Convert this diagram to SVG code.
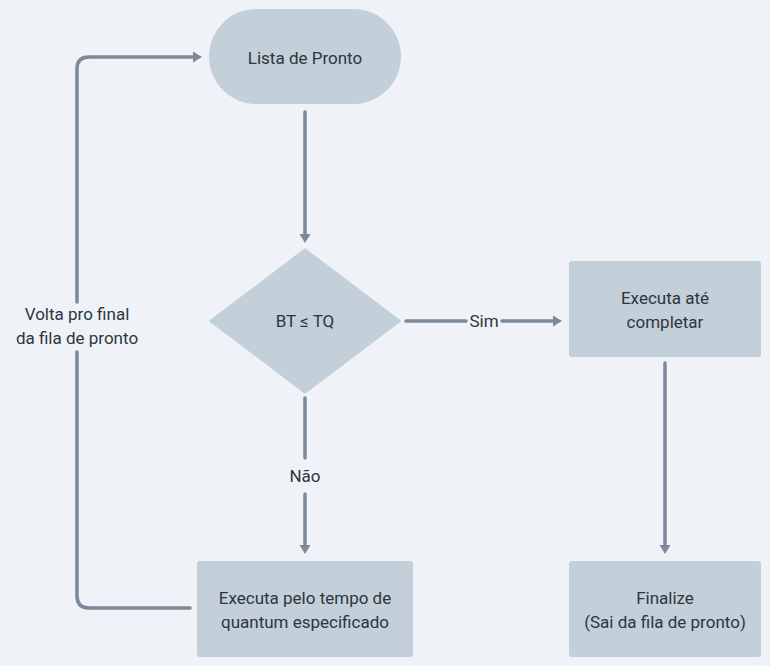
<svg xmlns="http://www.w3.org/2000/svg" width="770" height="666" viewBox="0 0 770 666">
<style>
.node{fill:#c3cfd9;}
.lbl{font-family:Roboto,"Noto Sans",sans-serif;font-size:17px;fill:#2d3640;text-anchor:middle;}
.edge{fill:none;stroke:#7b8998;stroke-width:3.5;stroke-linecap:round;stroke-linejoin:round;}
</style>
<defs>
<marker id="ah" markerUnits="userSpaceOnUse" markerWidth="14" markerHeight="14" viewBox="0 0 14 14" refX="1" refY="7" orient="auto">
<path d="M1,1.5 L10,7 L1,12.5 Z" fill="#7b8998"/>
</marker>
</defs>
<rect x="0" y="0" width="770" height="666" fill="#eff3f7"/>
<g id="edges">
<path class="edge" d="M305,112 L305,234" marker-end="url(#ah)"/>
<path class="edge" d="M406,321 L466,321"/>
<path class="edge" d="M502,321 L553,321" marker-end="url(#ah)"/>
<text class="lbl" x="484" y="327">Sim</text>
<path class="edge" d="M305,398 L305,458"/>
<path class="edge" d="M305,494 L305,545" marker-end="url(#ah)"/>
<text class="lbl" x="305" y="482">Não</text>
<path class="edge" d="M190,608 L89,608 Q77,608 77,596 L77,352"/>
<path class="edge" d="M77,302 L77,69 Q77,57 89,57 L193,57" marker-end="url(#ah)"/>
<text class="lbl" x="77" y="320">Volta pro final</text>
<text class="lbl" x="77" y="344">da fila de pronto</text>
<path class="edge" d="M665,363 L665,545" marker-end="url(#ah)"/>
</g>
<g id="lista">
<rect class="node" x="209" y="9" width="192" height="95" rx="47.5"/>
<text class="lbl" x="305" y="64">Lista de Pronto</text>
</g>
<g id="decisao">
<path class="node" d="M305,250 L399,321 L305,392 L211,321 Z" stroke="#c3cfd9" stroke-width="3" stroke-linejoin="round"/>
<text class="lbl" x="305" y="327">BT ≤ TQ</text>
</g>
<g id="executa-completar">
<rect class="node" x="569" y="261" width="192" height="96" rx="3"/>
<text class="lbl" x="665" y="304">Executa até</text>
<text class="lbl" x="665" y="328">completar</text>
</g>
<g id="finalize">
<rect class="node" x="569" y="561" width="192" height="96" rx="3"/>
<text class="lbl" x="665" y="604">Finalize</text>
<text class="lbl" x="665" y="628">(Sai da fila de pronto)</text>
</g>
<g id="executa-quantum">
<rect class="node" x="197" y="561" width="216" height="96" rx="3"/>
<text class="lbl" x="305" y="604">Executa pelo tempo de</text>
<text class="lbl" x="305" y="628">quantum especificado</text>
</g>
</svg>
